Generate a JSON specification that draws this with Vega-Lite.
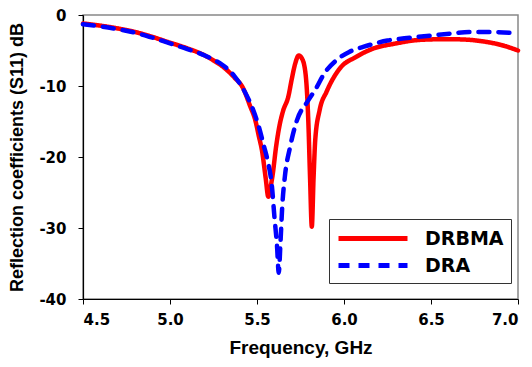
{
  "$schema": "https://vega.github.io/schema/vega-lite/v6.json",
  "width": 435,
  "height": 284,
  "autosize": {"type": "none"},
  "padding": {"left": 83, "top": 15, "right": 14, "bottom": 68},
  "background": "white",
  "config": {
    "view": {"stroke": "#888888", "strokeWidth": 1.5},
    "axis": {
      "grid": false,
      "domainColor": "#000000",
      "domainWidth": 1.2,
      "tickColor": "#000000",
      "tickSize": 5,
      "labelFont": "DejaVu Sans",
      "labelFontWeight": "bold",
      "labelFontSize": 15,
      "labelColor": "#000000",
      "titleFont": "Liberation Sans",
      "titleFontWeight": "bold",
      "titleFontSize": 18,
      "titleColor": "#000000"
    }
  },
  "data": {
    "values": [
      {"f": 4.5, "s": -1.2, "series": "DRBMA"},
      {"f": 4.6, "s": -1.5, "series": "DRBMA"},
      {"f": 4.7, "s": -1.9, "series": "DRBMA"},
      {"f": 4.8, "s": -2.4, "series": "DRBMA"},
      {"f": 4.9, "s": -3.1, "series": "DRBMA"},
      {"f": 5.0, "s": -3.9, "series": "DRBMA"},
      {"f": 5.1, "s": -4.7, "series": "DRBMA"},
      {"f": 5.2, "s": -5.7, "series": "DRBMA"},
      {"f": 5.25, "s": -6.4, "series": "DRBMA"},
      {"f": 5.3, "s": -7.2, "series": "DRBMA"},
      {"f": 5.37, "s": -8.8, "series": "DRBMA"},
      {"f": 5.42, "s": -10.3, "series": "DRBMA"},
      {"f": 5.46, "s": -12.8, "series": "DRBMA"},
      {"f": 5.49, "s": -14.8, "series": "DRBMA"},
      {"f": 5.51, "s": -17.0, "series": "DRBMA"},
      {"f": 5.53, "s": -19.3, "series": "DRBMA"},
      {"f": 5.55, "s": -23.0, "series": "DRBMA"},
      {"f": 5.565, "s": -25.6, "series": "DRBMA"},
      {"f": 5.58, "s": -24.0, "series": "DRBMA"},
      {"f": 5.59, "s": -22.5, "series": "DRBMA"},
      {"f": 5.61, "s": -18.5, "series": "DRBMA"},
      {"f": 5.63, "s": -15.5, "series": "DRBMA"},
      {"f": 5.65, "s": -13.5, "series": "DRBMA"},
      {"f": 5.68, "s": -11.5, "series": "DRBMA"},
      {"f": 5.70, "s": -9.0, "series": "DRBMA"},
      {"f": 5.72, "s": -6.8, "series": "DRBMA"},
      {"f": 5.74, "s": -5.7, "series": "DRBMA"},
      {"f": 5.76, "s": -6.2, "series": "DRBMA"},
      {"f": 5.78, "s": -8.5, "series": "DRBMA"},
      {"f": 5.795, "s": -15.0, "series": "DRBMA"},
      {"f": 5.805, "s": -23.0, "series": "DRBMA"},
      {"f": 5.815, "s": -29.8, "series": "DRBMA"},
      {"f": 5.825, "s": -23.0, "series": "DRBMA"},
      {"f": 5.835, "s": -17.5, "series": "DRBMA"},
      {"f": 5.86, "s": -13.4, "series": "DRBMA"},
      {"f": 5.90, "s": -10.8, "series": "DRBMA"},
      {"f": 5.977, "s": -7.5, "series": "DRBMA"},
      {"f": 6.07, "s": -5.9, "series": "DRBMA"},
      {"f": 6.15, "s": -4.9, "series": "DRBMA"},
      {"f": 6.3, "s": -4.0, "series": "DRBMA"},
      {"f": 6.44, "s": -3.5, "series": "DRBMA"},
      {"f": 6.6, "s": -3.4, "series": "DRBMA"},
      {"f": 6.72, "s": -3.5, "series": "DRBMA"},
      {"f": 6.82, "s": -3.8, "series": "DRBMA"},
      {"f": 6.9, "s": -4.2, "series": "DRBMA"},
      {"f": 7.0, "s": -5.0, "series": "DRBMA"},
      {"f": 4.5, "s": -1.3, "series": "DRA"},
      {"f": 4.6, "s": -1.6, "series": "DRA"},
      {"f": 4.7, "s": -2.0, "series": "DRA"},
      {"f": 4.8, "s": -2.5, "series": "DRA"},
      {"f": 4.9, "s": -3.2, "series": "DRA"},
      {"f": 5.0, "s": -4.0, "series": "DRA"},
      {"f": 5.1, "s": -4.8, "series": "DRA"},
      {"f": 5.2, "s": -5.7, "series": "DRA"},
      {"f": 5.25, "s": -6.3, "series": "DRA"},
      {"f": 5.3, "s": -7.0, "series": "DRA"},
      {"f": 5.37, "s": -8.6, "series": "DRA"},
      {"f": 5.44, "s": -11.3, "series": "DRA"},
      {"f": 5.48, "s": -13.5, "series": "DRA"},
      {"f": 5.51, "s": -15.7, "series": "DRA"},
      {"f": 5.54, "s": -18.5, "series": "DRA"},
      {"f": 5.56, "s": -20.4, "series": "DRA"},
      {"f": 5.586, "s": -24.2, "series": "DRA"},
      {"f": 5.60, "s": -28.4, "series": "DRA"},
      {"f": 5.615, "s": -32.5, "series": "DRA"},
      {"f": 5.625, "s": -36.3, "series": "DRA"},
      {"f": 5.635, "s": -32.0, "series": "DRA"},
      {"f": 5.645, "s": -27.0, "series": "DRA"},
      {"f": 5.66, "s": -22.8, "series": "DRA"},
      {"f": 5.69, "s": -18.6, "series": "DRA"},
      {"f": 5.73, "s": -14.8, "series": "DRA"},
      {"f": 5.79, "s": -12.2, "series": "DRA"},
      {"f": 5.845, "s": -10.1, "series": "DRA"},
      {"f": 5.88, "s": -8.5, "series": "DRA"},
      {"f": 5.96, "s": -6.3, "series": "DRA"},
      {"f": 6.03, "s": -5.2, "series": "DRA"},
      {"f": 6.11, "s": -4.5, "series": "DRA"},
      {"f": 6.25, "s": -3.6, "series": "DRA"},
      {"f": 6.38, "s": -3.2, "series": "DRA"},
      {"f": 6.5, "s": -2.9, "series": "DRA"},
      {"f": 6.62, "s": -2.6, "series": "DRA"},
      {"f": 6.72, "s": -2.4, "series": "DRA"},
      {"f": 6.85, "s": -2.4, "series": "DRA"},
      {"f": 7.0, "s": -2.6, "series": "DRA"}
    ]
  },
  "mark": {"type": "line", "interpolate": "monotone", "strokeWidth": 4.5, "strokeCap": "round"},
  "encoding": {
    "x": {
      "field": "f",
      "type": "quantitative",
      "scale": {"domain": [4.5, 7.0], "nice": false, "zero": false},
      "axis": {
        "values": [4.5, 5.0, 5.5, 6.0, 6.5, 7.0],
        "format": ".1f",
        "title": "Frequency, GHz",
        "titleFontSize": 19,
        "labelPadding": 8,
        "titlePadding": 11
      }
    },
    "y": {
      "field": "s",
      "type": "quantitative",
      "scale": {"domain": [-40, 0], "nice": false},
      "axis": {
        "values": [-40, -30, -20, -10, 0],
        "labelExpr": "datum.value == 0 ? '0' : '-' + abs(datum.value)",
        "title": "Reflection coefficients (S11) dB",
        "labelPadding": 12,
        "titlePadding": 12
      }
    },
    "color": {
      "field": "series",
      "type": "nominal",
      "sort": ["DRBMA", "DRA"],
      "scale": {"domain": ["DRBMA", "DRA"], "range": ["#ff0000", "#0000ff"]},
      "legend": {
        "title": null,
        "orient": "none",
        "legendX": 246,
        "legendY": 204,
        "strokeColor": "#333333",
        "fillColor": "white",
        "padding": 7,
        "symbolType": "M-1,0H5.9",
        "symbolSize": 400,
        "symbolStrokeWidth": 5,
        "labelFont": "DejaVu Sans",
        "labelFontWeight": "bold",
        "labelFontSize": 19,
        "labelColor": "#000000",
        "labelOffset": 64,
        "rowPadding": 4
      }
    },
    "strokeDash": {
      "field": "series",
      "type": "nominal",
      "sort": ["DRBMA", "DRA"],
      "scale": {"domain": ["DRBMA", "DRA"], "range": [[1, 0], [11, 9]]},
      "legend": {
        "title": null,
        "orient": "none",
        "legendX": 246,
        "legendY": 204,
        "strokeColor": "#333333",
        "fillColor": "white",
        "padding": 7,
        "symbolType": "M-1,0H5.9",
        "symbolSize": 400,
        "symbolStrokeWidth": 5,
        "labelFont": "DejaVu Sans",
        "labelFontWeight": "bold",
        "labelFontSize": 19,
        "labelColor": "#000000",
        "labelOffset": 64,
        "rowPadding": 4
      }
    }
  }
}
